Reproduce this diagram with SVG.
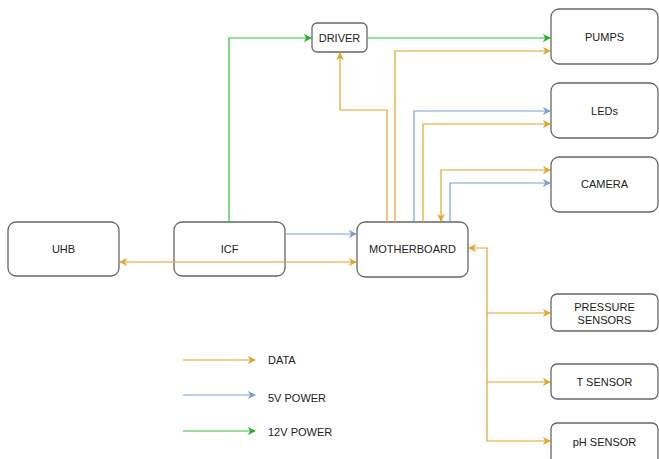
<svg xmlns="http://www.w3.org/2000/svg" width="659" height="459" viewBox="0 0 659 459">
<defs>
<style>
.box{fill:#fff;stroke:#666;stroke-width:1.3}
.t{font-family:"Liberation Sans",Arial,sans-serif;font-size:11px;fill:#222;text-anchor:middle;dominant-baseline:central}
.lt{font-family:"Liberation Sans",Arial,sans-serif;font-size:11px;fill:#222;dominant-baseline:central}
.d{fill:none;stroke:#e0a628;stroke-width:1.2}
.p5{fill:none;stroke:#7c9fd0;stroke-width:1.2}
.p12{fill:none;stroke:#33c133;stroke-width:1.2}
</style>
<marker id="ad" viewBox="0 0 10 10" refX="9" refY="5" markerWidth="8" markerHeight="8" markerUnits="userSpaceOnUse" orient="auto-start-reverse"><path d="M0,0 L10,5 L0,10 L3,5 Z" fill="#e0a628"/></marker>
<marker id="ab" viewBox="0 0 10 10" refX="9" refY="5" markerWidth="8" markerHeight="8" markerUnits="userSpaceOnUse" orient="auto-start-reverse"><path d="M0,0 L10,5 L0,10 L3,5 Z" fill="#7c9fd0"/></marker>
<marker id="ag" viewBox="0 0 10 10" refX="9" refY="5" markerWidth="8" markerHeight="8" markerUnits="userSpaceOnUse" orient="auto-start-reverse"><path d="M0,0 L10,5 L0,10 L3,5 Z" fill="#22b022"/></marker>
</defs>
<rect width="659" height="459" fill="#fff"/>
<g id="driver"><rect class="box" x="312" y="23" width="55" height="29" rx="5"/><text class="t" x="339.5" y="38">DRIVER</text></g>
<g id="pumps"><rect class="box" x="551" y="9" width="107" height="55" rx="8"/><text class="t" x="604.5" y="37">PUMPS</text></g>
<g id="leds"><rect class="box" x="551" y="83" width="107" height="55" rx="8"/><text class="t" x="604.5" y="111">LEDs</text></g>
<g id="camera"><rect class="box" x="551" y="157" width="107" height="55" rx="8"/><text class="t" x="604.5" y="184">CAMERA</text></g>
<g id="motherboard"><rect class="box" x="357" y="222" width="111" height="55" rx="8"/><text class="t" x="412.5" y="249">MOTHERBOARD</text></g>
<g id="uhb"><rect class="box" x="8" y="222" width="111" height="54" rx="8"/><text class="t" x="63.5" y="249">UHB</text></g>
<g id="icf"><rect class="box" x="174" y="222" width="111" height="54" rx="8"/><text class="t" x="229.5" y="249">ICF</text></g>
<g id="pressure"><rect class="box" x="551" y="294" width="107" height="37" rx="6"/><text class="t" x="604.5" y="307">PRESSURE</text><text class="t" x="604.5" y="320">SENSORS</text></g>
<g id="tsensor"><rect class="box" x="551" y="364" width="107" height="35" rx="6"/><text class="t" x="604.5" y="382">T SENSOR</text></g>
<g id="phsensor"><rect class="box" x="551" y="423" width="107" height="45" rx="6"/><text class="t" x="604.5" y="442">pH SENSOR</text></g>
<g id="connectors">
<path class="p12" d="M229,222 V38 H311" marker-end="url(#ag)"/>
<path class="p12" d="M367,38 H550" marker-end="url(#ag)"/>
<path class="d" d="M387,222 V110 H340 V53" marker-end="url(#ad)"/>
<path class="d" d="M395,222 V51 H550" marker-end="url(#ad)"/>
<path class="p5" d="M414,222 V111 H550" marker-end="url(#ab)"/>
<path class="d" d="M423,222 V124 H550" marker-end="url(#ad)"/>
<path class="d" d="M550,170 H441 V221" marker-start="url(#ad)" marker-end="url(#ad)"/>
<path class="p5" d="M450,222 V183 H550" marker-end="url(#ab)"/>
<path class="p5" d="M285,234 H356" marker-end="url(#ab)"/>
<path class="d" d="M120,262 H356" marker-start="url(#ad)" marker-end="url(#ad)"/>
<path class="d" d="M469,248 H487 V441 H550" marker-start="url(#ad)" marker-end="url(#ad)"/>
<path class="d" d="M487,313 H550" marker-end="url(#ad)"/>
<path class="d" d="M487,382 H550" marker-end="url(#ad)"/>
</g>
<g id="legend">
<path class="d" d="M183,360 H255" marker-end="url(#ad)"/>
<text class="lt" x="268" y="360">DATA</text>
<path class="p5" d="M183,395 H255" marker-end="url(#ab)"/>
<text class="lt" x="268" y="398">5V POWER</text>
<path class="p12" d="M183,431 H255" marker-end="url(#ag)"/>
<text class="lt" x="268" y="432">12V POWER</text>
</g>
</svg>
